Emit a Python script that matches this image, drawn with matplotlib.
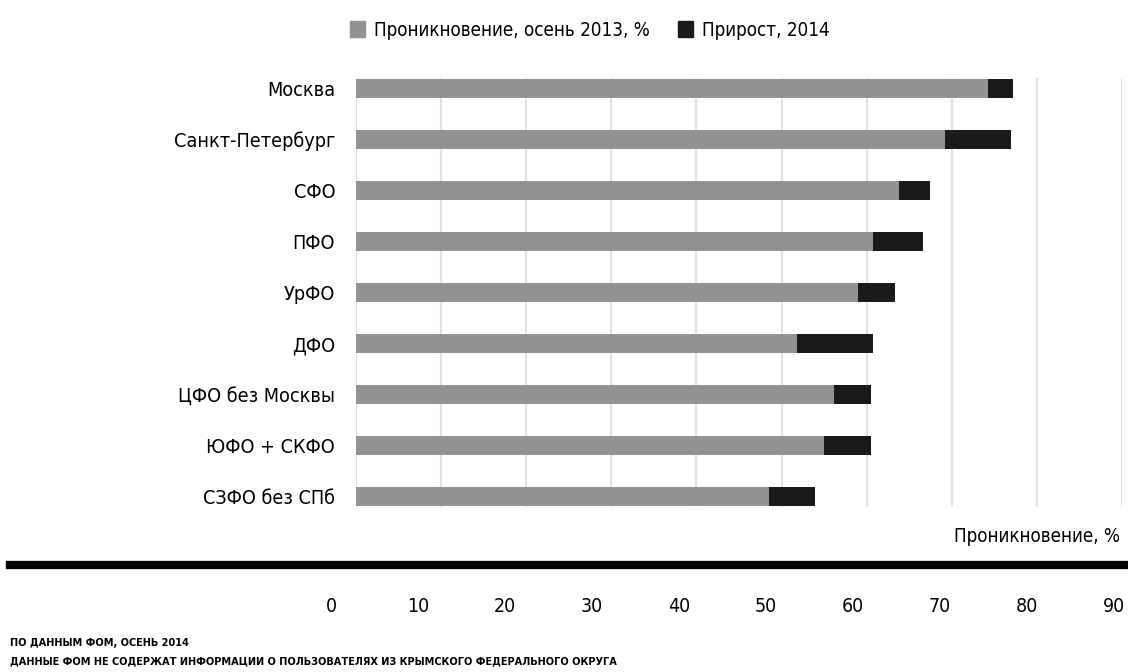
import matplotlib
matplotlib.use("Agg")
import matplotlib.pyplot as plt
from matplotlib.lines import Line2D
from matplotlib.patches import Patch

plt.rcParams['font.family'] = ['DejaVu Sans']
plt.rcParams['font.stretch'] = 'condensed'

regions = ["Москва", "Санкт-Петербург", "СФО", "ПФО", "УрФО", "ДФО",
           "ЦФО без Москвы", "ЮФО + СКФО", "СЗФО без СПб"]
pen_2013 = [74.3, 69.2, 63.8, 60.8, 59.0, 51.8, 56.2, 55.0, 48.5]
growth_2014 = [2.9, 7.7, 3.6, 5.8, 4.3, 9.0, 4.3, 5.5, 5.4]
ticks = [0, 10, 20, 30, 40, 50, 60, 70, 80, 90]

GRAY = "#939393"
BLACK = "#1a1a1a"
W, H = 1128, 672

fig = plt.figure(figsize=(W / 100, H / 100), dpi=100)
ax = fig.add_axes([356 / W, 1 - 507 / H, (1122 - 356) / W, (507 - 78) / H])

y = range(len(regions))
ax.barh(y, pen_2013, height=0.38, color=GRAY, zorder=2)
ax.barh(y, growth_2014, left=pen_2013, height=0.38, color=BLACK, zorder=2)

ax.set_xlim(0, 90)
ax.set_ylim(len(regions) - 1 + 0.2, -0.2)
ax.set_xticks(ticks)
ax.xaxis.grid(True, color="#e2e2e2", linewidth=1.5, zorder=0)
ax.tick_params(axis="x", length=0, labelbottom=False)
ax.tick_params(axis="y", length=0, pad=15, labelsize=14.2)
ax.set_yticks(list(y))
ax.set_yticklabels(regions)
for s in ax.spines.values():
    s.set_visible(False)

# separate tick label row under the thick line
ax2 = fig.add_axes([331 / W, 1 - 597 / H, (1114 - 331) / W, 0.001])
ax2.set_xlim(0, 90)
ax2.set_xticks(ticks)
ax2.set_xticklabels([str(t) for t in ticks])
ax2.set_yticks([])
ax2.tick_params(axis="x", length=0, pad=0, labelsize=14)
for s in ax2.spines.values():
    s.set_visible(False)
ax2.patch.set_visible(False)

fig.add_artist(Line2D([10 / W, 1], [1 - 565 / H] * 2, color="black", linewidth=6))
fig.text(1120 / W, 1 - 537 / H, "Проникновение, %", ha="right", va="center", fontsize=13.5)

handles = [Patch(color=GRAY), Patch(color=BLACK)]
fig.legend(handles, ["Проникновение, осень 2013, %", "Прирост, 2014"],
           loc="center", bbox_to_anchor=(590 / W, 1 - 30 / H), ncol=2, frameon=False,
           fontsize=13.5, handlelength=0.8, handleheight=0.9, handletextpad=0.5,
           columnspacing=1.5)

fig.text(10 / W, 1 - 643 / H, "ПО ДАННЫМ ФОМ, ОСЕНЬ 2014", fontsize=7.8, va="center",
         fontweight="bold")
fig.text(10 / W, 1 - 661 / H,
         "ДАННЫЕ ФОМ НЕ СОДЕРЖАТ ИНФОРМАЦИИ О ПОЛЬЗОВАТЕЛЯХ ИЗ КРЫМСКОГО ФЕДЕРАЛЬНОГО ОКРУГА",
         fontsize=7.8, va="center", fontweight="bold")

fig.savefig("out.png", dpi=100)
